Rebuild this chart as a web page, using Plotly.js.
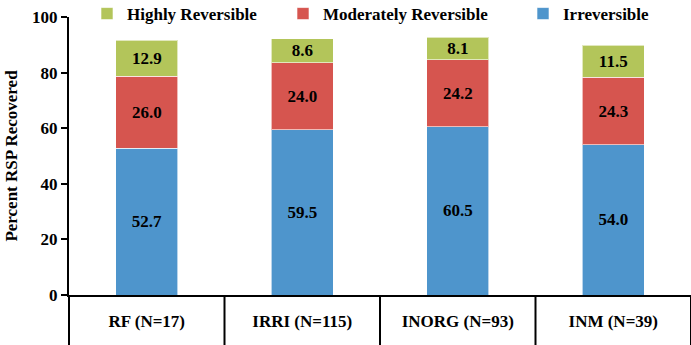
<!DOCTYPE html>
<html><head><meta charset="utf-8">
<script src="https://cdn.plot.ly/plotly-3.0.1.min.js"></script>
<style>html,body{margin:0;padding:0;background:#fff}</style>
</head><body><div id="chart" style="width:691px;height:345px"></div>
<script>
const categories = ["RF (N=17)", "IRRI (N=115)", "INORG (N=93)", "INM (N=39)"];
const irreversible = [52.7, 59.5, 60.5, 54.0];
const moderately = [26.0, 24.0, 24.2, 24.3];
const highly = [12.9, 8.6, 8.1, 11.5];
const seriesNames = ["Irreversible", "Moderately Reversible", "Highly Reversible"];
const yTicks = [0, 20, 40, 60, 80, 100];

const F = "Liberation Serif, serif";
const colors = ["#4E95CC", "#D6554F", "#B3C55A"];
const legendIds = ["legend3", "legend2", "legend"];
const data = [irreversible, moderately, highly].map((vals, i) => ({
  type: "bar", x: categories, y: vals, name: seriesNames[i],
  marker: {color: colors[i], line: {color: "rgba(255,255,255,0.6)", width: 1}},
  texttemplate: "%{y:.1f}", textposition: "inside", insidetextanchor: "middle",
  constraintext: "none",
  textfont: {family: F, size: 17, weight: "bold", color: "#000"},
  legend: legendIds[i], hoverinfo: "skip"
}));

function leg(xpx) {
  return {orientation: "h", xref: "container", yref: "container", x: xpx / 691, y: 1 - 14 / 345,
    xanchor: "left", yanchor: "middle", bgcolor: "rgba(0,0,0,0)",
    font: {family: F, size: 17, weight: "bold", color: "#000"}};
}

const layout = {
  width: 691, height: 345,
  margin: {l: 69, r: 0, t: 17, b: 50, autoexpand: false},
  paper_bgcolor: "#fff", plot_bgcolor: "#fff",
  barmode: "stack", bargap: 0.6,
  showlegend: true,
  legend: leg(87), legend2: leg(283), legend3: leg(523),
  xaxis: {
    range: [-0.5, 3.5], showgrid: false, zeroline: false,
    showline: true, linecolor: "#000", linewidth: 2,
    ticks: "", ticklabelstandoff: 10,
    tickfont: {family: F, size: 17, weight: "bold", color: "#000"}
  },
  yaxis: {
    range: [0, 100], tickvals: yTicks, ticktext: yTicks.map(String),
    showgrid: false, zeroline: false,
    showline: true, linecolor: "#000", linewidth: 2,
    ticks: "outside", ticklen: 6, tickwidth: 2, tickcolor: "#000",
    tickfont: {family: F, size: 17, weight: "bold", color: "#000"},
    title: {text: "Percent RSP Recovered", standoff: 10,
      font: {family: F, size: 17, weight: "bold", color: "#000"}}
  },
  shapes: [0, 0.25, 0.5, 0.75, 1].map(px => ({
    type: "line", xref: "paper", yref: "paper", x0: px, x1: px, y0: 0, y1: -0.2,
    line: {color: "#000", width: 2}
  }))
};

Plotly.newPlot("chart", data, layout, {displayModeBar: false}).then(() =>
  Plotly.relayout("chart", {"yaxis.title.standoff": 10}));
</script></body></html>
